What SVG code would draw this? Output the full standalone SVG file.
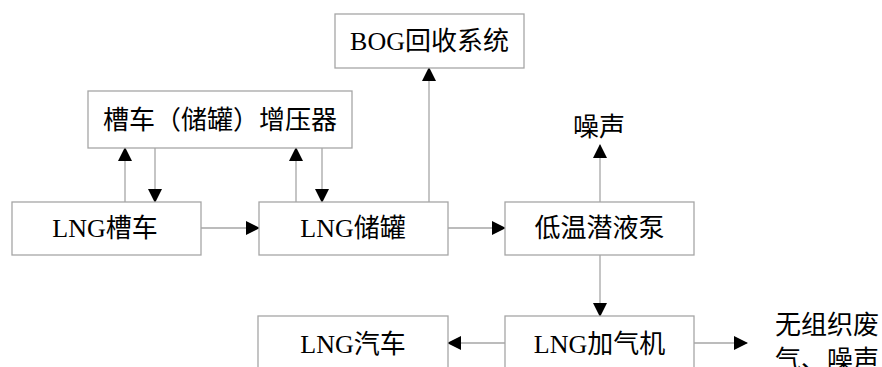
<svg xmlns="http://www.w3.org/2000/svg" width="882" height="367" viewBox="0 0 882 367">
<defs>
<style>
.box{fill:#fff;stroke:#a6a6a6;stroke-width:1.3}
.t{font-family:"Liberation Serif","Noto Sans CJK SC",serif;font-size:26px;fill:#000;text-anchor:middle}
.tl{font-family:"Liberation Serif","Noto Sans CJK SC",serif;font-size:26px;fill:#000}
.c{stroke:#a6a6a6;stroke-width:1.3;fill:none;marker-end:url(#ah)}
</style>
<marker id="ah" viewBox="0 0 14 14" refX="13" refY="7" markerWidth="14" markerHeight="14" markerUnits="userSpaceOnUse" orient="auto">
<path d="M0,0 L14,7 L0,14 Z" fill="#000"/>
</marker>
</defs>
<rect width="882" height="367" fill="#fff"/>
<g id="connectors">
<line class="c" x1="125" y1="202" x2="125" y2="148"/>
<line class="c" x1="155" y1="148" x2="155" y2="202"/>
<line class="c" x1="296" y1="202" x2="296" y2="148"/>
<line class="c" x1="322" y1="148" x2="322" y2="202"/>
<line class="c" x1="201" y1="228" x2="259" y2="228"/>
<line class="c" x1="429" y1="202" x2="429" y2="68"/>
<line class="c" x1="448" y1="228" x2="505" y2="228"/>
<line class="c" x1="600" y1="202" x2="600" y2="145"/>
<line class="c" x1="600" y1="255" x2="600" y2="316"/>
<line class="c" x1="505" y1="343" x2="448" y2="343"/>
<line class="c" x1="694" y1="343" x2="747" y2="343"/>
</g>
<g id="bog">
<rect class="box" x="335" y="14" width="189" height="54"/>
<text class="t" x="429.5" y="50">BOG回收系统</text>
</g>
<g id="booster">
<rect class="box" x="88" y="91" width="264" height="57"/>
<text class="t" x="220" y="129">槽车（储罐）增压器</text>
</g>
<g id="tanker">
<rect class="box" x="12" y="202" width="189" height="53"/>
<text class="t" x="105" y="237">LNG槽车</text>
</g>
<g id="tank">
<rect class="box" x="259" y="202" width="189" height="53"/>
<text class="t" x="353" y="237">LNG储罐</text>
</g>
<g id="pump">
<rect class="box" x="505" y="202" width="189" height="53"/>
<text class="t" x="599.5" y="237">低温潜液泵</text>
</g>
<g id="noise">
<text class="t" x="599" y="136">噪声</text>
</g>
<g id="dispenser">
<rect class="box" x="505" y="316" width="189" height="60"/>
<text class="t" x="599.5" y="353">LNG加气机</text>
</g>
<g id="car">
<rect class="box" x="258" y="316" width="190" height="60"/>
<text class="t" x="353" y="353">LNG汽车</text>
</g>
<g id="emission">
<text class="tl" x="775" y="334">无组织废</text>
<text class="tl" x="775" y="369">气、噪声</text>
</g>
</svg>
